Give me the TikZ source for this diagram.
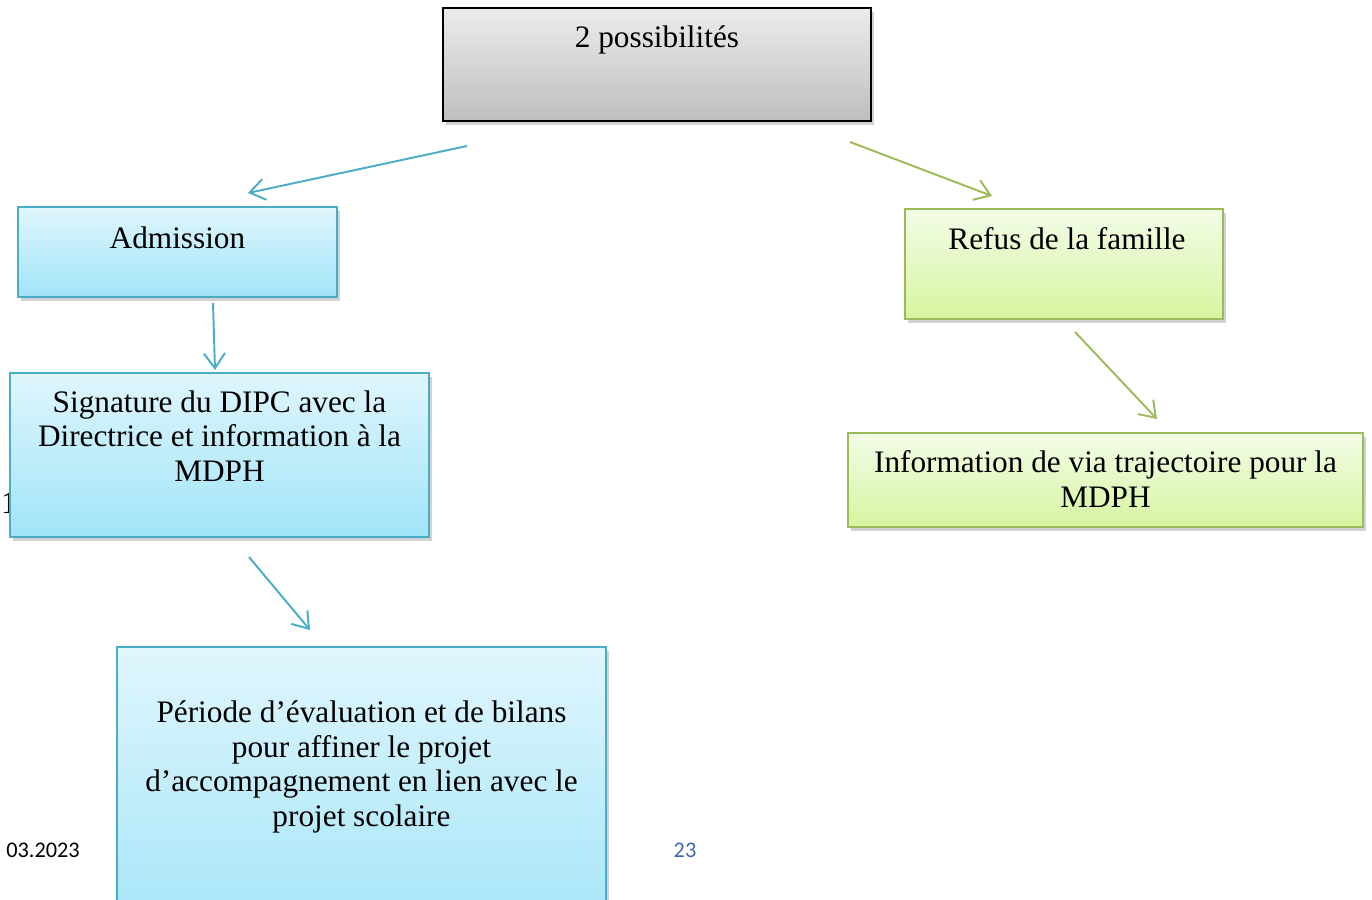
\documentclass[tikz,border=0pt]{standalone}
\usepackage{fontspec}
\setmainfont{Liberation Serif}
\newfontfamily\footfont{Carlito}
\usetikzlibrary{arrows.meta,shadows}
\definecolor{bluefill}{RGB}{160,228,248}
\definecolor{bluelight}{RGB}{224,246,253}
\definecolor{blueline}{RGB}{75,172,198}
\definecolor{greenfill}{RGB}{214,245,160}
\definecolor{greenlight}{RGB}{243,252,232}
\definecolor{greenline}{RGB}{155,187,89}
\definecolor{graylight}{RGB}{236,236,236}
\definecolor{graydark}{RGB}{190,190,190}
\definecolor{pagenum}{RGB}{63,104,178}
\tikzstyle{box}=[rectangle, line width=1.1pt, drop shadow={shadow xshift=1.5pt,shadow yshift=-2pt,opacity=.35}]
\tikzstyle{graybox}=[box, draw=black, top color=graylight, bottom color=graydark]
\tikzstyle{bluebox}=[box, draw=blueline, top color=bluelight, bottom color=bluefill]
\tikzstyle{greenbox}=[box, draw=greenline, top color=greenlight, bottom color=greenfill]
\tikzstyle{txt}=[align=center, inner sep=0pt, font=\fontsize{17.8}{19.6}\selectfont]
\tikzstyle{foot}=[inner sep=0pt, font=\footfont\fontsize{12.7}{15}\selectfont]
\tikzstyle{flow}=[line width=1.1pt, -{Straight Barb[length=3mm,width=4.2mm,line width=1.1pt]}]

\begin{document}
\begin{tikzpicture}[x=0.02cm,y=-0.02cm]
  \clip (0,0) rectangle (1372,899);
  \fill[white] (0,0) rectangle (1372,899);

  %% Footer and hidden number
  \draw (43,850) node[foot] (date) {03.2023};
  \draw (685,850) node[foot, text=pagenum] (page) {23};
  \draw (9,503) node[txt] (hidden) {1};

  %% Boxes
  \draw (657,64.5) node[graybox, minimum width=8.56cm, minimum height=2.26cm] (Poss) {};
  \draw (177.5,252) node[bluebox, minimum width=6.38cm, minimum height=1.8cm] (Adm) {};
  \draw (1064,264) node[greenbox, minimum width=6.36cm, minimum height=2.2cm] (Refus) {};
  \draw (219.5,455) node[bluebox, minimum width=8.38cm, minimum height=3.28cm] (Sig) {};
  \draw (1105.5,480) node[greenbox, minimum width=10.3cm, minimum height=1.88cm] (Info) {};
  \draw (361.5,800) node[bluebox, minimum width=9.78cm, minimum height=6.12cm] (Per) {};

  %% Texts
  \draw (657,40) node[txt] (PossT) {2 possibilités};
  \draw (177.5,238) node[txt] (AdmT) {Admission};
  \draw (1067,239) node[txt] (RefusT) {Refus de la famille};
  \draw (219.5,436) node[txt] (SigT) {Signature du DIPC avec la\\Directrice et information à la\\MDPH};
  \draw (1105.5,479) node[txt] (InfoT) {Information de via trajectoire pour la\\MDPH};
  \draw (361.5,767) node[txt] (PerT) {Période d’évaluation et de bilans\\pour affiner le projet\\d’accompagnement en lien avec le\\projet scolaire};

  %% Arrows
  \coordinate (a1) at (467,146);
  \coordinate (b1) at (248,193);
  \coordinate (a2) at (850,142);
  \coordinate (b2) at (992,196);
  \coordinate (a3) at (213,303);
  \coordinate (b3) at (215,370);
  \coordinate (a4) at (1075,332);
  \coordinate (b4) at (1157,419);
  \coordinate (a5) at (249,557);
  \coordinate (b5) at (310,630);
  \draw[flow, color=blueline] (a1) -- (b1);
  \draw[flow, color=greenline] (a2) -- (b2);
  \draw[flow, color=blueline] (a3) -- (b3);
  \draw[flow, color=greenline] (a4) -- (b4);
  \draw[flow, color=blueline] (a5) -- (b5);
\end{tikzpicture}
\end{document}
